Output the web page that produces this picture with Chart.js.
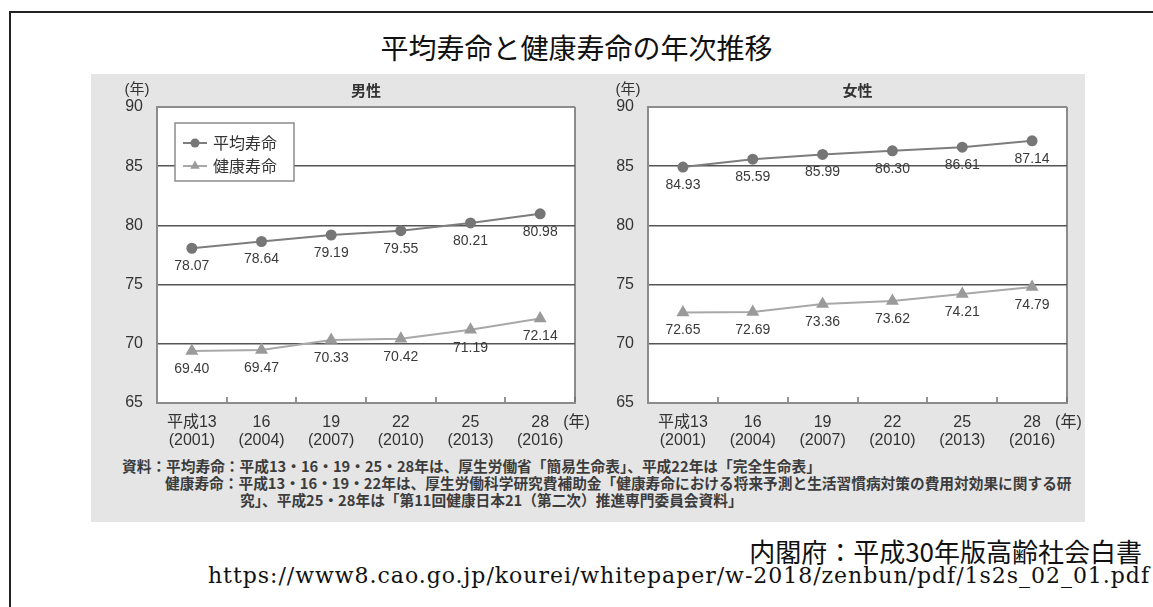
<!DOCTYPE html>
<html lang="ja">
<head>
<meta charset="utf-8">
<title>平均寿命と健康寿命の年次推移</title>
<script src="https://cdn.jsdelivr.net/npm/chart.js@4/dist/chart.umd.min.js"></script>
<style>
  html, body { margin: 0; padding: 0; background: #fff; }
  body { width: 1153px; height: 607px; position: relative; overflow: hidden; }
  .frame { position: absolute; left: 9px; top: 11px; width: 1300px; height: 800px;
           border-left: 2px solid #222; border-top: 2px solid #222; }
  .title { position: absolute; left: 0; top: 31px; width: 1153px; text-align: center;
           font: 28px/32px "Noto Sans CJK JP", sans-serif; color: #111; }
  .panel { position: absolute; left: 91px; top: 74px; width: 994px; height: 448px; background: #e5e5e5; }
  canvas { position: absolute; top: 74px; }
  #male { left: 91px; }
  #female { left: 582px; }
  .note { position: absolute; white-space: nowrap; font: bold 14.7px/17px "Noto Sans CJK JP", sans-serif; color: #3c3c3c; }
  .src1 { position: absolute; right: 11px; top: 537px; white-space: nowrap;
          font: 26px/28px "Noto Sans CJK JP", sans-serif; color: #111; }
  .src2 { position: absolute; right: 3px; top: 565px; white-space: nowrap; letter-spacing: 0.97px;
          font: 22px/22px "DejaVu Serif", "Liberation Serif", serif; color: #111; }
</style>
</head>
<body>
<div class="frame"></div>
<div class="title">平均寿命と健康寿命の年次推移</div>
<div class="panel"></div>
<canvas id="male" width="500" height="380"></canvas>
<canvas id="female" width="503" height="380"></canvas>
<div class="note" style="left:122px; top:457px;">資料：平均寿命：平成13・16・19・25・28年は、厚生労働省「簡易生命表」、平成22年は「完全生命表」</div>
<div class="note" style="left:165px; top:474px;">健康寿命：平成13・16・19・22年は、厚生労働科学研究費補助金「健康寿命における将来予測と生活習慣病対策の費用対効果に関する研</div>
<div class="note" style="left:240px; top:491px;">究」、平成25・28年は「第11回健康日本21（第二次）推進専門委員会資料」</div>
<div class="src1">内閣府：平成30年版高齢社会白書</div>
<div class="src2">https://www8.cao.go.jp/kourei/whitepaper/w-2018/zenbun/pdf/1s2s_02_01.pdf</div>

<script>
// Survey years: Japanese era year and Western year
const eraYears = ['平成13', '16', '19', '22', '25', '28'];
const westernYears = ['(2001)', '(2004)', '(2007)', '(2010)', '(2013)', '(2016)'];

// Life expectancy and healthy life expectancy (years)
const maleLifeExpectancy     = [78.07, 78.64, 79.19, 79.55, 80.21, 80.98];
const maleHealthyLife        = [69.40, 69.47, 70.33, 70.42, 71.19, 72.14];
const femaleLifeExpectancy   = [84.93, 85.59, 85.99, 86.30, 86.61, 87.14];
const femaleHealthyLife      = [72.65, 72.69, 73.36, 73.62, 74.21, 74.79];

// Value axis
const yTicks = [65, 70, 75, 80, 85, 90];

const seriesNames = ['平均寿命', '健康寿命'];
const panelTitles = ['男性', '女性'];
const yearUnit = '(年)';

const categories = eraYears.map((e, i) => [e, westernYears[i]]);

const FRAME = '#8c8c8c';
const GRID = '#555555';
const TEXT = '#333333';
const LATIN_JP = '"Liberation Sans", "Noto Sans CJK JP", sans-serif';
const JP = '"Noto Sans CJK JP", sans-serif';

Chart.defaults.font.family = LATIN_JP;
Chart.defaults.color = TEXT;

const seriesStyle = [
  { borderColor: '#7d7d7d', pointBackgroundColor: '#767676', pointBorderColor: '#767676',
    pointStyle: 'circle', pointRadius: 4.5 },
  { borderColor: '#a8a8a8', pointBackgroundColor: '#9a9a9a', pointBorderColor: '#9a9a9a',
    pointStyle: 'triangle', pointRadius: 5.5 }
];

// White plot area, panel heading, unit captions and the optional legend box
const panelDecor = {
  id: 'panelDecor',
  beforeDraw(chart) {
    const { ctx, chartArea: a } = chart;
    ctx.save();
    ctx.fillStyle = '#ffffff';
    ctx.fillRect(a.left, a.top, a.right - a.left, a.bottom - a.top);
    ctx.restore();
  },
  afterDraw(chart, args, opts) {
    const { ctx, chartArea: a, scales: { x } } = chart;
    ctx.save();
    ctx.fillStyle = TEXT;
    ctx.textBaseline = 'middle';

    ctx.textAlign = 'center';
    ctx.font = 'bold 15px ' + JP;
    ctx.fillText(opts.heading, (a.left + a.right) / 2, a.top - 17);

    ctx.font = '15px ' + LATIN_JP;
    ctx.fillText(yearUnit, a.left - 20, a.top - 17);

    ctx.textAlign = 'left';
    ctx.font = '16px ' + LATIN_JP;
    ctx.fillText(yearUnit, x.getPixelForTick(x.ticks.length - 1) + 23, a.bottom + 20);

    if (opts.legend) {
      const bx = a.left + 18, by = a.top + 16, bw = 119, bh = 58;
      ctx.fillStyle = '#ffffff';
      ctx.fillRect(bx, by, bw, bh);
      ctx.strokeStyle = FRAME;
      ctx.lineWidth = 1.5;
      ctx.strokeRect(bx, by, bw, bh);
      chart.data.datasets.forEach((ds, i) => {
        const ry = by + 20 + i * 23;
        ctx.strokeStyle = ds.borderColor;
        ctx.lineWidth = 2;
        ctx.beginPath();
        ctx.moveTo(bx + 8, ry);
        ctx.lineTo(bx + 32, ry);
        ctx.stroke();
        ctx.fillStyle = ds.pointBackgroundColor;
        ctx.beginPath();
        if (ds.pointStyle === 'circle') {
          ctx.arc(bx + 20, ry, ds.pointRadius, 0, Math.PI * 2);
        } else {
          const r = ds.pointRadius;
          ctx.moveTo(bx + 20, ry - r);
          ctx.lineTo(bx + 20 + r * Math.cos(Math.PI / 6), ry + r / 2);
          ctx.lineTo(bx + 20 - r * Math.cos(Math.PI / 6), ry + r / 2);
          ctx.closePath();
        }
        ctx.fill();
        ctx.fillStyle = TEXT;
        ctx.font = '16px ' + JP;
        ctx.fillText(ds.label, bx + 38, ry);
      });
    }
    ctx.restore();
  }
};

// Value labels under each point
const valueLabels = {
  id: 'valueLabels',
  afterDatasetsDraw(chart) {
    const { ctx } = chart;
    ctx.save();
    ctx.font = '14px "Liberation Sans", sans-serif';
    ctx.fillStyle = '#3a3a3a';
    ctx.textAlign = 'center';
    ctx.textBaseline = 'middle';
    chart.data.datasets.forEach((ds, di) => {
      chart.getDatasetMeta(di).data.forEach((pt, i) => {
        ctx.fillText(ds.data[i].toFixed(2), pt.x, pt.y + 18);
      });
    });
    ctx.restore();
  }
};

function makeChart(id, life, healthy, heading, withLegend, rightPad) {
  return new Chart(document.getElementById(id), {
    type: 'line',
    data: {
      labels: categories,
      datasets: [
        Object.assign({ label: seriesNames[0], data: life, borderWidth: 2, tension: 0 }, seriesStyle[0]),
        Object.assign({ label: seriesNames[1], data: healthy, borderWidth: 2, tension: 0 }, seriesStyle[1])
      ]
    },
    options: {
      responsive: false,
      animation: false,
      layout: { padding: { top: 33, right: rightPad, bottom: 0, left: 0 } },
      plugins: {
        legend: { display: false },
        title: { display: false },
        tooltip: { enabled: false },
        panelDecor: { heading: heading, legend: withLegend }
      },
      scales: {
        x: {
          type: 'category',
          offset: true,
          afterFit(s) { s.height = 51; },
          border: { display: true, color: FRAME, width: 2 },
          grid: {
            offset: true,
            drawTicks: true,
            tickLength: -6,
            color: c => (c.type === 'tick' && c.index > 0) ? 'rgba(0,0,0,0)' : FRAME,
            lineWidth: 2,
            tickColor: '#707070',
            tickWidth: 1.5
          },
          ticks: {
            color: TEXT,
            font: { size: 16, lineHeight: 1.125 },
            padding: 17,
            maxRotation: 0,
            autoSkip: false
          }
        },
        y: {
          min: yTicks[0],
          max: yTicks[yTicks.length - 1],
          afterFit(s) { s.width = 66; },
          afterBuildTicks(s) { s.ticks = yTicks.map(v => ({ value: v })); },
          border: { display: true, color: FRAME, width: 2 },
          grid: {
            drawTicks: false,
            color: c => (c.tick && (c.tick.value === yTicks[0] || c.tick.value === yTicks[yTicks.length - 1])) ? FRAME : GRID,
            lineWidth: c => (c.tick && (c.tick.value === yTicks[0] || c.tick.value === yTicks[yTicks.length - 1])) ? 2 : 1.5
          },
          ticks: {
            color: TEXT,
            font: { size: 16 },
            padding: 14
          }
        }
      }
    },
    plugins: [panelDecor, valueLabels]
  });
}

makeChart('male', maleLifeExpectancy, maleHealthyLife, panelTitles[0], true, 16);
makeChart('female', femaleLifeExpectancy, femaleHealthyLife, panelTitles[1], false, 18);
</script>
</body>
</html>
